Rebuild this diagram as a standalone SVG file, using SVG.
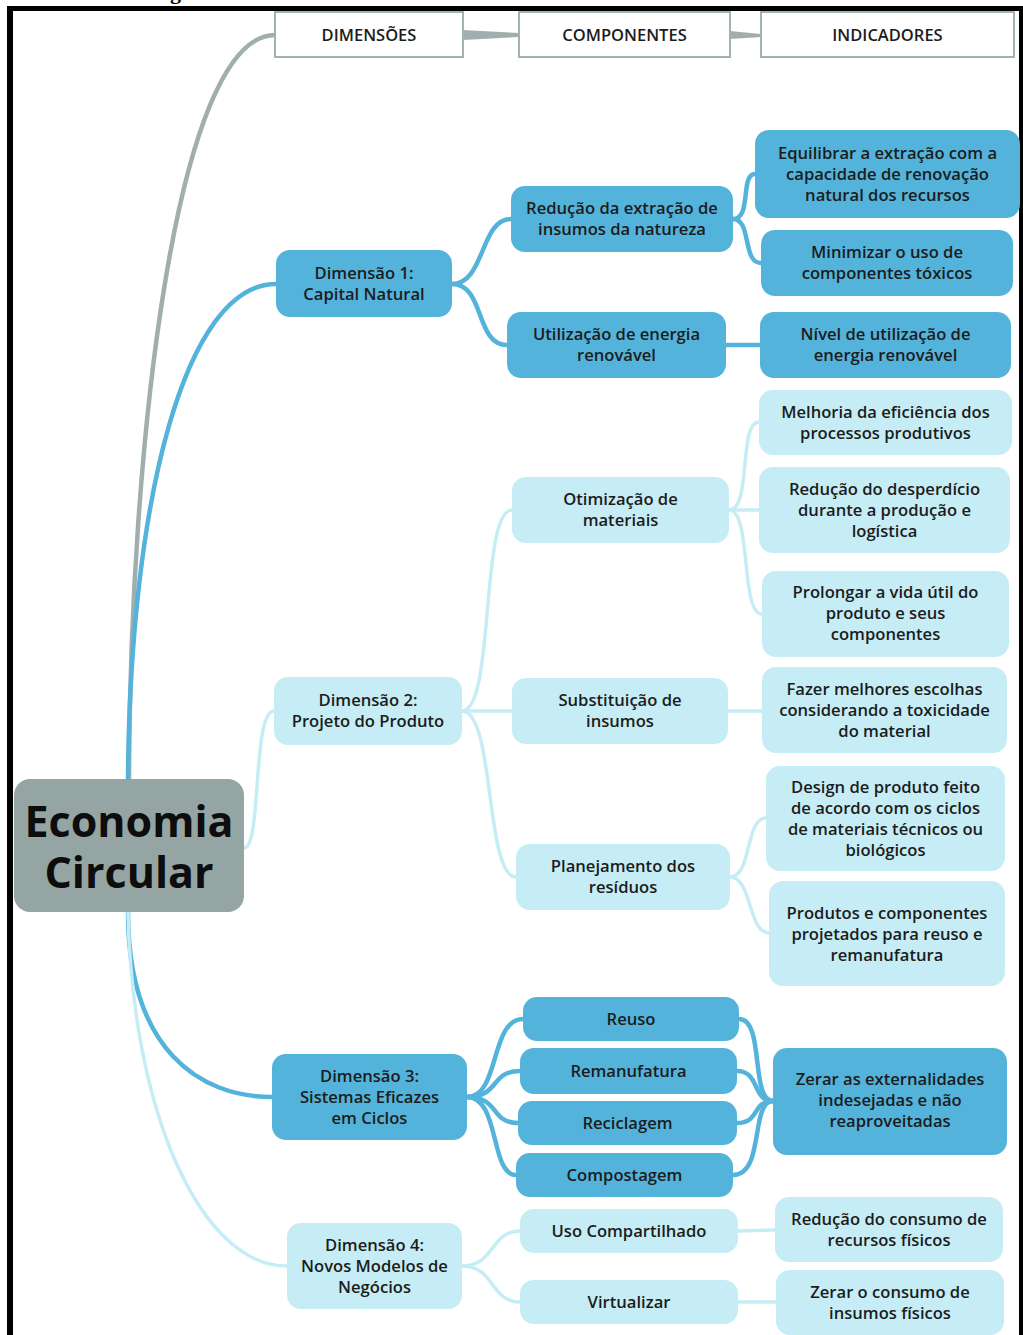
<svg xmlns="http://www.w3.org/2000/svg" width="1023" height="1335" viewBox="0 0 1023 1335">
<style>
  .t{font-family:"Open Sans","Noto Sans","DejaVu Sans",sans-serif;font-weight:600;font-size:16.6px;fill:#1c1c1c;text-anchor:middle}
  .h{font-family:"Open Sans","Noto Sans","DejaVu Sans",sans-serif;font-weight:600;font-size:16.5px;fill:#1c1c1c;text-anchor:middle}
  .big{font-family:"Open Sans","Noto Sans","DejaVu Sans",sans-serif;font-weight:700;font-size:43px;fill:#0d0d0d;text-anchor:middle}
  .d{fill:#54b3da}
  .l{fill:#c6edf5}
  .hb{fill:#ffffff;stroke:#a3b3b1;stroke-width:2}
  .cd{fill:none;stroke:#54b3da;stroke-width:4.5;stroke-linecap:round}
  .cl{fill:none;stroke:#c6edf5;stroke-width:3.5;stroke-linecap:round}
  .cg{fill:none;stroke:#a0afad;stroke-width:4.5;stroke-linecap:round}
</style>
<rect width="1023" height="1335" fill="#ffffff"/>
<text x="170" y="-1" font-family="Liberation Serif, serif" font-size="22" font-weight="700" fill="#000">g</text>
<!-- frame -->
<rect x="7" y="6" width="1016" height="5" fill="#000"/>
<rect x="7" y="6" width="6" height="1329" fill="#000"/>
<rect x="1019" y="6" width="4" height="1329" fill="#000"/>

<g id="connectors">
  <!-- header tapers -->
  <path d="M463,30 L519,33 L519,37 L463,40 Z" fill="#a0afad"/>
  <path d="M730,31 L761,34 L761,37 L730,39 Z" fill="#a0afad"/>
  <!-- main -->
  <path class="cg" d="M129,779 C130,450 175,35 275,35"/>
  <path class="cd" d="M128,779 C130,500 185,284 276,284"/>
  <path class="cl" d="M244,848 C262,848 252,711 274,711"/>
  <path class="cd" d="M128,912 C128,1050 200,1097 272,1097"/>
  <path class="cl" d="M128,912 C132,1110 200,1266 287,1266"/>
  <!-- dim1 -->
  <path class="cd" d="M452,284 C485,284 480,219 511,219"/>
  <path class="cd" d="M452,284 C485,284 475,345 507,345"/>
  <path class="cd" d="M733,219 C752,219 740,174 755,174"/>
  <path class="cd" d="M733,219 C752,219 742,263 761,263"/>
  <path class="cd" d="M726,345 L760,345"/>
  <!-- dim2 -->
  <path class="cl" d="M462,711 C495,711 480,510 512,510"/>
  <path class="cl" d="M462,711 L512,711"/>
  <path class="cl" d="M462,711 C495,711 485,877 516,877"/>
  <path class="cl" d="M729,510 C752,510 738,422 759,422"/>
  <path class="cl" d="M729,510 L759,510"/>
  <path class="cl" d="M729,510 C752,510 740,614 762,614"/>
  <path class="cl" d="M728,711 L762,711"/>
  <path class="cl" d="M730,877 C752,877 745,818 766,818"/>
  <path class="cl" d="M730,877 C752,877 748,933 769,933"/>
  <!-- dim3 -->
  <path class="cd" d="M467,1097 C500,1097 490,1019 523,1019"/>
  <path class="cd" d="M467,1097 C500,1097 490,1071 520,1071"/>
  <path class="cd" d="M467,1097 C500,1097 490,1123 518,1123"/>
  <path class="cd" d="M467,1097 C500,1097 490,1175 516,1175"/>
  <path class="cd" d="M739,1019 C765,1019 750,1101 773,1101"/>
  <path class="cd" d="M737,1071 C760,1071 752,1101 773,1101"/>
  <path class="cd" d="M737,1123 C760,1123 752,1101 773,1101"/>
  <path class="cd" d="M733,1175 C765,1175 750,1101 773,1101"/>
  <!-- dim4 -->
  <path class="cl" d="M462,1266 C495,1266 490,1231 520,1231"/>
  <path class="cl" d="M462,1266 C495,1266 490,1302 520,1302"/>
  <path class="cl" d="M738,1231 L775,1230"/>
  <path class="cl" d="M738,1302 L776,1302"/>
</g>

<g id="hdr-dimensoes"><rect class="hb" x="275" y="12" width="188" height="45"/><text class="h" x="369" y="41">DIMENSÕES</text></g>
<g id="hdr-componentes"><rect class="hb" x="519" y="12" width="211" height="45"/><text class="h" x="624.5" y="41">COMPONENTES</text></g>
<g id="hdr-indicadores"><rect class="hb" x="761" y="12" width="253" height="45"/><text class="h" x="887.5" y="41">INDICADORES</text></g>

<g id="economia-circular"><rect x="14" y="779" width="230" height="133" rx="16" fill="#95a5a3"/><text class="big" x="129" y="837">Economia</text><text class="big" x="129" y="888">Circular</text></g>

<!-- Dimensão 1 -->
<g id="dim1"><rect class="d" x="276" y="250" width="176" height="67" rx="14"/><text class="t" x="364" y="279">Dimensão 1:</text><text class="t" x="364" y="300">Capital Natural</text></g>
<g id="c-reducao-extracao"><rect class="d" x="511" y="186" width="222" height="66" rx="14"/><text class="t" x="622" y="214">Redução da extração de</text><text class="t" x="622" y="235">insumos da natureza</text></g>
<g id="c-energia"><rect class="d" x="507" y="312" width="219" height="66" rx="14"/><text class="t" x="616.5" y="340">Utilização de energia</text><text class="t" x="616.5" y="361">renovável</text></g>
<g id="i-equilibrar"><rect class="d" x="755" y="130" width="265" height="88" rx="14"/><text class="t" x="887.5" y="159">Equilibrar a extração com a</text><text class="t" x="887.5" y="180">capacidade de renovação</text><text class="t" x="887.5" y="201">natural dos recursos</text></g>
<g id="i-minimizar"><rect class="d" x="761" y="230" width="252" height="66" rx="14"/><text class="t" x="887" y="258">Minimizar o uso de</text><text class="t" x="887" y="279">componentes tóxicos</text></g>
<g id="i-nivel"><rect class="d" x="760" y="312" width="251" height="66" rx="14"/><text class="t" x="885.5" y="340">Nível de utilização de</text><text class="t" x="885.5" y="361">energia renovável</text></g>

<!-- Dimensão 2 -->
<g id="dim2"><rect class="l" x="274" y="677" width="188" height="68" rx="14"/><text class="t" x="368" y="706">Dimensão 2:</text><text class="t" x="368" y="727">Projeto do Produto</text></g>
<g id="c-otimizacao"><rect class="l" x="512" y="477" width="217" height="66" rx="14"/><text class="t" x="620.5" y="505">Otimização de</text><text class="t" x="620.5" y="526">materiais</text></g>
<g id="c-substituicao"><rect class="l" x="512" y="678" width="216" height="66" rx="14"/><text class="t" x="620" y="706">Substituição de</text><text class="t" x="620" y="727">insumos</text></g>
<g id="c-planejamento"><rect class="l" x="516" y="844" width="214" height="66" rx="14"/><text class="t" x="623" y="872">Planejamento dos</text><text class="t" x="623" y="893">resíduos</text></g>
<g id="i-melhoria"><rect class="l" x="759" y="390" width="253" height="65" rx="14"/><text class="t" x="885.5" y="418">Melhoria da eficiência dos</text><text class="t" x="885.5" y="439">processos produtivos</text></g>
<g id="i-desperdicio"><rect class="l" x="759" y="467" width="251" height="86" rx="14"/><text class="t" x="884.5" y="495">Redução do desperdício</text><text class="t" x="884.5" y="516">durante a produção e</text><text class="t" x="884.5" y="537">logística</text></g>
<g id="i-prolongar"><rect class="l" x="762" y="571" width="247" height="86" rx="14"/><text class="t" x="885.5" y="598">Prolongar a vida útil do</text><text class="t" x="885.5" y="619">produto e seus</text><text class="t" x="885.5" y="640">componentes</text></g>
<g id="i-escolhas"><rect class="l" x="762" y="667" width="245" height="86" rx="14"/><text class="t" x="884.5" y="695">Fazer melhores escolhas</text><text class="t" x="884.5" y="716">considerando a toxicidade</text><text class="t" x="884.5" y="737">do material</text></g>
<g id="i-design"><rect class="l" x="766" y="766" width="239" height="105" rx="14"/><text class="t" x="885.5" y="793">Design de produto feito</text><text class="t" x="885.5" y="814">de acordo com os ciclos</text><text class="t" x="885.5" y="835">de materiais técnicos ou</text><text class="t" x="885.5" y="856">biológicos</text></g>
<g id="i-produtos"><rect class="l" x="769" y="881" width="236" height="105" rx="14"/><text class="t" x="887" y="919">Produtos e componentes</text><text class="t" x="887" y="940">projetados para reuso e</text><text class="t" x="887" y="961">remanufatura</text></g>

<!-- Dimensão 3 -->
<g id="dim3"><rect class="d" x="272" y="1054" width="195" height="86" rx="14"/><text class="t" x="369.5" y="1082">Dimensão 3:</text><text class="t" x="369.5" y="1103">Sistemas Eficazes</text><text class="t" x="369.5" y="1124">em Ciclos</text></g>
<g id="c-reuso"><rect class="d" x="523" y="997" width="216" height="44" rx="14"/><text class="t" x="631" y="1025">Reuso</text></g>
<g id="c-remanufatura"><rect class="d" x="520" y="1048" width="217" height="46" rx="14"/><text class="t" x="628.5" y="1077">Remanufatura</text></g>
<g id="c-reciclagem"><rect class="d" x="518" y="1101" width="219" height="44" rx="14"/><text class="t" x="627.5" y="1129">Reciclagem</text></g>
<g id="c-compostagem"><rect class="d" x="516" y="1153" width="217" height="44" rx="14"/><text class="t" x="624.5" y="1181">Compostagem</text></g>
<g id="i-zerar-externalidades"><rect class="d" x="773" y="1048" width="234" height="107" rx="14"/><text class="t" x="890" y="1085">Zerar as externalidades</text><text class="t" x="890" y="1106">indesejadas e não</text><text class="t" x="890" y="1127">reaproveitadas</text></g>

<!-- Dimensão 4 -->
<g id="dim4"><rect class="l" x="287" y="1223" width="175" height="86" rx="14"/><text class="t" x="374.5" y="1251">Dimensão 4:</text><text class="t" x="374.5" y="1272">Novos Modelos de</text><text class="t" x="374.5" y="1293">Negócios</text></g>
<g id="c-uso-compartilhado"><rect class="l" x="520" y="1209" width="218" height="44" rx="14"/><text class="t" x="629" y="1237">Uso Compartilhado</text></g>
<g id="c-virtualizar"><rect class="l" x="520" y="1280" width="218" height="44" rx="14"/><text class="t" x="629" y="1308">Virtualizar</text></g>
<g id="i-reducao-consumo"><rect class="l" x="775" y="1197" width="228" height="65" rx="14"/><text class="t" x="889" y="1225">Redução do consumo de</text><text class="t" x="889" y="1246">recursos físicos</text></g>
<g id="i-zerar-consumo"><rect class="l" x="776" y="1270" width="228" height="65" rx="14"/><text class="t" x="890" y="1298">Zerar o consumo de</text><text class="t" x="890" y="1319">insumos físicos</text></g>
</svg>
